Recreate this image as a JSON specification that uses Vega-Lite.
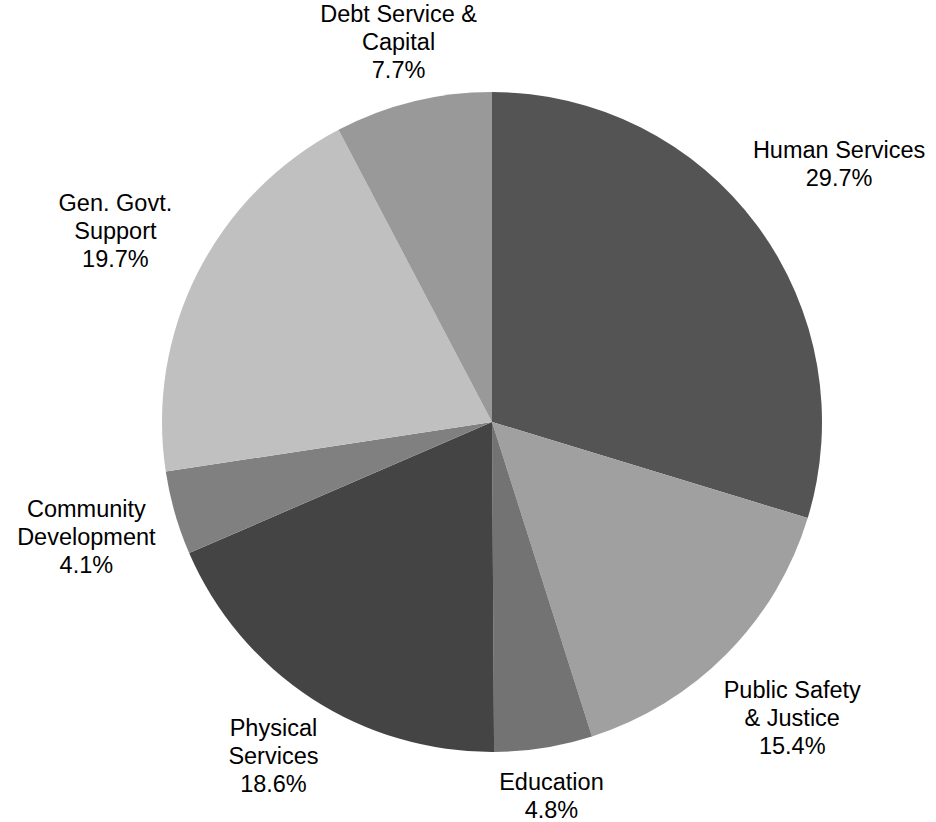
{
  "$schema": "https://vega.github.io/schema/vega-lite/v6.json",
  "autosize": {"type": "none"},
  "width": 888,
  "height": 800,
  "padding": {"left": 48, "top": 22, "right": 0, "bottom": 0},
  "background": "white",
  "config": {"view": {"stroke": null}},
  "data": {
    "values": [
      {"idx": 1, "category": "Human Services", "share": 29.7},
      {"idx": 2, "category": "Public Safety\n& Justice", "share": 15.4},
      {"idx": 3, "category": "Education", "share": 4.8},
      {"idx": 4, "category": "Physical\nServices", "share": 18.6},
      {"idx": 5, "category": "Community\nDevelopment", "share": 4.1},
      {"idx": 6, "category": "Gen. Govt.\nSupport", "share": 19.7},
      {"idx": 7, "category": "Debt Service &\nCapital", "share": 7.7}
    ]
  },
  "transform": [
    {"calculate": "datum.category + '\\n' + format(datum.share, '.1f') + '%'", "as": "label"}
  ],
  "encoding": {
    "theta": {"field": "share", "type": "quantitative", "stack": true},
    "order": {"field": "idx", "type": "quantitative"},
    "color": {
      "field": "category",
      "type": "nominal",
      "scale": {
        "domain": ["Human Services", "Public Safety\n& Justice", "Education", "Physical\nServices", "Community\nDevelopment", "Gen. Govt.\nSupport", "Debt Service &\nCapital"],
        "range": ["#545454", "#a0a0a0", "#737373", "#444444", "#808080", "#c0c0c0", "#999999"]
      },
      "legend": null
    }
  },
  "layer": [
    {"mark": {"type": "arc", "outerRadius": 330}},
    {
      "mark": {"type": "text", "radius": 432, "dy": -14, "font": "Liberation Sans", "fontSize": 23.5, "lineHeight": 28, "lineBreak": "\n", "align": "center", "baseline": "middle"},
      "encoding": {
        "text": {"field": "label"},
        "color": {"value": "black"},
        "opacity": {"condition": {"test": "datum.idx == 1", "value": 1}, "value": 0}
      }
    },
    {
      "mark": {"type": "text", "radius": 422, "dy": -28, "font": "Liberation Sans", "fontSize": 23.5, "lineHeight": 28, "lineBreak": "\n", "align": "center", "baseline": "middle"},
      "encoding": {
        "text": {"field": "label"},
        "color": {"value": "black"},
        "opacity": {"condition": {"test": "datum.idx == 2 || datum.idx == 5 || datum.idx == 6", "value": 1}, "value": 0}
      }
    },
    {
      "mark": {"type": "text", "radius": 400, "dy": -28, "font": "Liberation Sans", "fontSize": 23.5, "lineHeight": 28, "lineBreak": "\n", "align": "center", "baseline": "middle"},
      "encoding": {
        "text": {"field": "label"},
        "color": {"value": "black"},
        "opacity": {"condition": {"test": "datum.idx == 4", "value": 1}, "value": 0}
      }
    },
    {
      "mark": {"type": "text", "radius": 380, "dy": -14, "font": "Liberation Sans", "fontSize": 23.5, "lineHeight": 28, "lineBreak": "\n", "align": "center", "baseline": "middle"},
      "encoding": {
        "text": {"field": "label"},
        "color": {"value": "black"},
        "opacity": {"condition": {"test": "datum.idx == 3", "value": 1}, "value": 0}
      }
    },
    {
      "mark": {"type": "text", "radius": 390, "dy": -28, "font": "Liberation Sans", "fontSize": 23.5, "lineHeight": 28, "lineBreak": "\n", "align": "center", "baseline": "middle"},
      "encoding": {
        "text": {"field": "label"},
        "color": {"value": "black"},
        "opacity": {"condition": {"test": "datum.idx == 7", "value": 1}, "value": 0}
      }
    }
  ]
}
